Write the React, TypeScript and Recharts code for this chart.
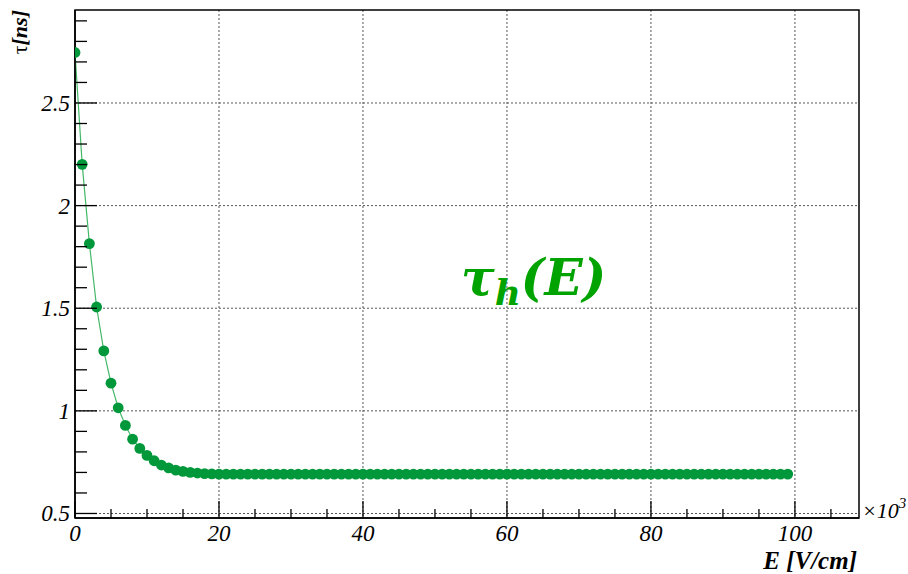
import React from 'react';
import { LineChart, Line, XAxis, YAxis, CartesianGrid, ReferenceArea } from 'recharts';

// E in units of 10^3 V/cm
const fieldE = [
  0, 1, 2, 3, 4, 5, 6, 7, 8, 9, 10, 11, 12, 13, 14, 15, 16, 17, 18, 19,
  20, 21, 22, 23, 24, 25, 26, 27, 28, 29, 30, 31, 32, 33, 34, 35, 36, 37, 38, 39,
  40, 41, 42, 43, 44, 45, 46, 47, 48, 49, 50, 51, 52, 53, 54, 55, 56, 57, 58, 59,
  60, 61, 62, 63, 64, 65, 66, 67, 68, 69, 70, 71, 72, 73, 74, 75, 76, 77, 78, 79,
  80, 81, 82, 83, 84, 85, 86, 87, 88, 89, 90, 91, 92, 93, 94, 95, 96, 97, 98, 99,
];

// tau_h in ns
const tauH = [
  2.746, 2.201, 1.815, 1.506, 1.292, 1.135, 1.015, 0.929, 0.862, 0.817,
  0.783, 0.757, 0.736, 0.722, 0.711, 0.705, 0.700, 0.697, 0.694, 0.693,
  0.692, 0.692, 0.692, 0.692, 0.692, 0.692, 0.692, 0.692, 0.692, 0.692,
  0.692, 0.692, 0.692, 0.692, 0.692, 0.692, 0.692, 0.692, 0.692, 0.692,
  0.692, 0.692, 0.692, 0.692, 0.692, 0.692, 0.692, 0.692, 0.692, 0.692,
  0.692, 0.692, 0.692, 0.692, 0.692, 0.692, 0.692, 0.692, 0.692, 0.692,
  0.692, 0.692, 0.692, 0.692, 0.692, 0.692, 0.692, 0.692, 0.692, 0.692,
  0.692, 0.692, 0.692, 0.692, 0.692, 0.692, 0.692, 0.692, 0.692, 0.692,
  0.692, 0.692, 0.692, 0.692, 0.692, 0.692, 0.692, 0.692, 0.692, 0.692,
  0.692, 0.692, 0.692, 0.692, 0.692, 0.692, 0.692, 0.692, 0.692, 0.692,
];

const xTicks = [0, 5, 10, 15, 20, 25, 30, 35, 40, 45, 50, 55, 60, 65, 70, 75, 80, 85, 90, 95, 100, 105];
const xMajor = [0, 20, 40, 60, 80, 100];
const yTicks = [
  0.5, 0.6, 0.7, 0.8, 0.9, 1, 1.1, 1.2, 1.3, 1.4, 1.5, 1.6, 1.7, 1.8, 1.9,
  2, 2.1, 2.2, 2.3, 2.4, 2.5, 2.6, 2.7, 2.8, 2.9,
];
const yMajor = [0.5, 1, 1.5, 2, 2.5];

const X_MIN = 0;
const X_MAX = 108.9;
const Y_MIN = 0.478;
const Y_MAX = 2.953;

const data = fieldE.map((e, i) => ({ e, tau: tauH[i] }));

const serif = '"Liberation Serif", "Times New Roman", serif';
const serifItalic = { fontFamily: serif, fontStyle: 'italic' as const };

const isMajor = (list: number[], v: number) => list.some((m) => Math.abs(m - v) < 1e-6);

const XTick = (props: any) => {
  const { x, y, payload } = props;
  const major = isMajor(xMajor, payload.value);
  return (
    <g>
      <line x1={x} x2={x} y1={y} y2={y - (major ? 17 : 9)} stroke="#000" strokeWidth={1.3} />
      {major && (
        <text x={x} y={y + 23} textAnchor="middle" style={{ ...serifItalic, fontSize: 23 }} fill="#000">
          {payload.value}
        </text>
      )}
    </g>
  );
};

const YTick = (props: any) => {
  const { x, y, payload } = props;
  const major = isMajor(yMajor, payload.value);
  return (
    <g>
      <line x1={x} x2={x + (major ? 22 : 12)} y1={y} y2={y} stroke="#000" strokeWidth={1.3} />
      {major && (
        <text x={x - 5} y={y + 8} textAnchor="end" style={{ ...serifItalic, fontSize: 23 }} fill="#000">
          {payload.value}
        </text>
      )}
    </g>
  );
};

export default function App() {
  return (
    <div style={{ position: 'absolute', left: 0, top: 0, width: 908, height: 574, background: '#fff' }}>
      <LineChart width={908} height={574} data={data} margin={{ top: 10, right: 49, bottom: 0, left: 0 }}>
        <CartesianGrid
          horizontalValues={yMajor}
          verticalValues={xMajor.filter((v) => v > 0)}
          stroke="#555"
          strokeDasharray="2 2"
          strokeWidth={1}
        />
        <XAxis
          dataKey="e"
          type="number"
          domain={[X_MIN, X_MAX]}
          ticks={xTicks}
          interval={0}
          height={56}
          tickSize={0}
          tickMargin={0}
          tickLine={false}
          axisLine={{ stroke: '#000', strokeWidth: 1.5 }}
          tick={<XTick />}
          allowDataOverflow
        />
        <YAxis
          type="number"
          domain={[Y_MIN, Y_MAX]}
          ticks={yTicks}
          interval={0}
          width={75}
          tickSize={0}
          tickMargin={0}
          tickLine={false}
          axisLine={{ stroke: '#000', strokeWidth: 1.5 }}
          tick={<YTick />}
          allowDataOverflow
        />
        <ReferenceArea x1={X_MIN} x2={X_MAX} y1={Y_MIN} y2={Y_MAX} fill="none" stroke="#000" strokeWidth={1.5} />
        <Line
          dataKey="tau"
          type="linear"
          stroke="#44b868"
          strokeWidth={1.2}
          dot={{ r: 5.4, fill: '#00983a', stroke: 'none' }}
          isAnimationActive={false}
        />
      </LineChart>
      <svg width={908} height={574} style={{ position: 'absolute', left: 0, top: 0, pointerEvents: 'none' }}>
        <text transform="translate(27,10) rotate(-90)" textAnchor="end" style={{ fontFamily: serif, fontSize: 22 }} fill="#000">
          <tspan>τ</tspan>
          <tspan style={{ fontWeight: 'bold', fontStyle: 'italic' }}>[ns]</tspan>
        </text>
        <text x={857} y={569} textAnchor="end" style={{ ...serifItalic, fontWeight: 'bold', fontSize: 25 }} fill="#000">
          E [V/cm]
        </text>
        <text x={862} y={518} style={{ ...serifItalic, fontSize: 22 }} fill="#000">
          ×10
          <tspan style={{ fontSize: 15 }} dy={-10}>3</tspan>
        </text>
        <text
          x={461}
          y={295}
          style={{ fontFamily: '"DejaVu Serif", serif', fontWeight: 'bold', fontStyle: 'italic', fontSize: 50 }}
          fill="#00a300"
        >
          τ
          <tspan style={{ fontSize: 36 }} dy={10}>h</tspan>
          <tspan dy={-10}>(E)</tspan>
        </text>
      </svg>
    </div>
  );
}
